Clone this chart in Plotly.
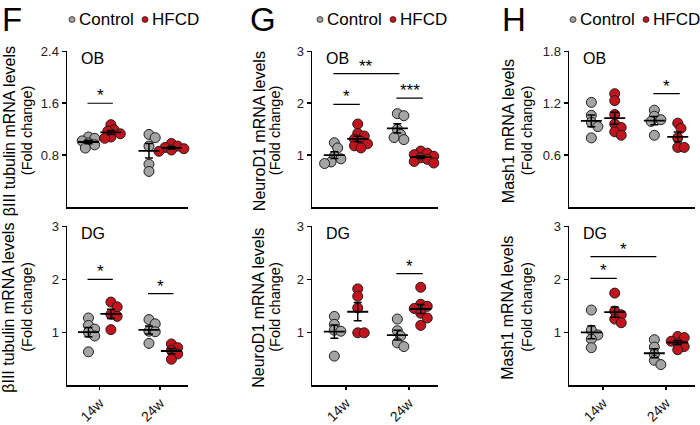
import numpy as np
import plotly.graph_objects as go

# ---------------- data ----------------
groups = ["Control 14w", "HFCD 14w", "Control 24w", "HFCD 24w"]
time_labels = ["14w", "24w"]
legend_labels = ["Control", "HFCD"]
panel_letters = ["F", "G", "H"]
gene_titles = ["βIII tubulin mRNA levels", "NeuroD1 mRNA levels", "Mash1 mRNA levels"]
sub_title = "(Fold change)"
regions = ["OB", "DG"]

# βIII tubulin
tub_ob_ctrl14 = [1.08, 1.06, 1.02, 0.99, 0.96, 0.91]
tub_ob_hfcd14 = [1.27, 1.19, 1.17, 1.13, 1.08, 1.06]
tub_ob_ctrl24 = [1.12, 1.07, 0.94, 0.66, 0.55]
tub_ob_hfcd24 = [0.98, 0.94, 0.92, 0.90, 0.88, 0.86]
tub_dg_ctrl14 = [1.27, 1.13, 1.06, 1.00, 0.93, 0.63]
tub_dg_hfcd14 = [1.57, 1.48, 1.34, 1.30, 1.05]
tub_dg_ctrl24 = [1.24, 1.16, 1.02, 1.01, 0.79]
tub_dg_hfcd24 = [0.78, 0.71, 0.66, 0.59, 0.49]
# NeuroD1
neu_ob_ctrl14 = [1.24, 1.14, 0.98, 0.93, 0.87, 0.84]
neu_ob_hfcd14 = [1.60, 1.42, 1.37, 1.31, 1.27, 1.22, 1.18, 1.14]
neu_ob_ctrl24 = [1.80, 1.76, 1.50, 1.40, 1.34, 1.30]
neu_ob_hfcd24 = [1.08, 1.04, 1.01, 0.98, 0.95, 0.92, 0.88, 0.85]
neu_dg_ctrl14 = [1.30, 1.15, 1.04, 1.02, 0.55]
neu_dg_hfcd14 = [1.82, 1.68, 1.46, 0.99, 0.99]
neu_dg_ctrl24 = [1.25, 1.03, 0.93, 0.80, 0.73]
neu_dg_hfcd24 = [1.85, 1.53, 1.49, 1.45, 1.36, 1.27, 1.13]
# Mash1
mash_ob_ctrl14 = [1.21, 1.06, 0.98, 0.93, 0.80]
mash_ob_hfcd14 = [1.31, 1.23, 1.07, 0.96, 0.92, 0.87, 0.83]
mash_ob_ctrl24 = [1.12, 1.05, 1.01, 0.99, 0.83]
mash_ob_hfcd24 = [0.97, 0.91, 0.80, 0.69, 0.69]
mash_dg_ctrl14 = [1.42, 1.04, 0.95, 0.87, 0.71]
mash_dg_hfcd14 = [1.74, 1.40, 1.33, 1.25, 1.18]
mash_dg_ctrl24 = [0.86, 0.72, 0.58, 0.47, 0.39]
mash_dg_hfcd24 = [0.92, 0.90, 0.83, 0.79, 0.73, 0.67]

# y-axis tick values per panel (top row, bottom row)
ob_yticks = [[0.8, 1.6, 2.4], [1, 2, 3], [0.6, 1.2, 1.8]]
dg_yticks = [[1, 2, 3], [1, 2, 3], [1, 2, 3]]

# significance: (panel index 0-5, group a, group b, level, label)
significance = [
    (0, 0, 1, 1.60, "*"),
    (3, 0, 1, 2.00, "*"),
    (3, 2, 3, 1.73, "*"),
    (1, 0, 1, 1.98, "*"),
    (1, 2, 3, 2.10, "***"),
    (1, 0, 2, 2.57, "**"),
    (4, 2, 3, 2.11, "*"),
    (2, 2, 3, 1.31, "*"),
    (5, 0, 1, 2.02, "*"),
    (5, 0, 2, 2.43, "*"),
]

panels_data = [
    [tub_ob_ctrl14, tub_ob_hfcd14, tub_ob_ctrl24, tub_ob_hfcd24],
    [neu_ob_ctrl14, neu_ob_hfcd14, neu_ob_ctrl24, neu_ob_hfcd24],
    [mash_ob_ctrl14, mash_ob_hfcd14, mash_ob_ctrl24, mash_ob_hfcd24],
    [tub_dg_ctrl14, tub_dg_hfcd14, tub_dg_ctrl24, tub_dg_hfcd24],
    [neu_dg_ctrl14, neu_dg_hfcd14, neu_dg_ctrl24, neu_dg_hfcd24],
    [mash_dg_ctrl14, mash_dg_hfcd14, mash_dg_ctrl24, mash_dg_hfcd24],
]
panel_yticks = ob_yticks + dg_yticks

# ---------------- layout constants ----------------
W, H = 700, 425
FONT = "Liberation Sans, Arial, Helvetica, sans-serif"
GRAY = "#a4a4a4"
RED = "#c3131c"
EDGE = "#1e1e1e"
group_colors = [GRAY, RED, GRAY, RED]
group_pos = [1.1, 2.25, 4.2, 5.35]
tick_pos = [(group_pos[0] + group_pos[1]) / 2, (group_pos[2] + group_pos[3]) / 2]
XMAX = 6.2

col_px = [(67, 188), (312, 438), (569, 695)]
row_px = [(46, 208), (228, 393)]
title_x = [(9, 27), (259, 275), (508, 527)]
letter_x = [12, 263, 514]
legend_x = [72, 320, 573]


def px(x):
    return x / W


def py(y):
    return 1 - y / H


def swarm(values, cx, ppx, ppy, diam=6.0, step=0.16):
    placed = []
    xs = [0.0] * len(values)
    for i in range(len(values)):
        v = values[i]
        k = 0
        while True:
            n = (k + 1) // 2
            off = n * step * (1 if k % 2 == 1 else -1) if k > 0 else 0.0
            cand = cx + off
            ok = all(((cand - qx) * ppx) ** 2 + ((v - qy) * ppy) ** 2 >= diam ** 2 for qx, qy in placed)
            if ok or k > 12:
                break
            k += 1
        placed.append((cand, v))
        xs[i] = cand
    return xs


fig = go.Figure()
layout_axes = {}
shapes = []
annotations = []

for p in range(6):
    col, row = p % 3, p // 3
    x0, x1 = col_px[col]
    y0, y1 = row_px[row]
    ticks = panel_yticks[p]
    ymax = ticks[-1]
    ppx = (x1 - x0) / XMAX
    ppy = (y1 - y0) / ymax
    xa = "x" if p == 0 else f"x{p + 1}"
    ya = "y" if p == 0 else f"y{p + 1}"
    xname = "xaxis" if p == 0 else f"xaxis{p + 1}"
    yname = "yaxis" if p == 0 else f"yaxis{p + 1}"

    for g in range(4):
        vals = panels_data[p][g]
        xs = swarm(vals, group_pos[g], ppx, ppy)
        fig.add_trace(go.Scatter(
            x=xs, y=vals, mode="markers", xaxis=xa, yaxis=ya, showlegend=False,
            cliponaxis=False, hoverinfo="skip",
            marker=dict(size=10, color=group_colors[g], line=dict(color=EDGE, width=1)),
        ))
    for g in range(4):
        vals = np.array(panels_data[p][g])
        mean = vals.mean()
        sem = vals.std(ddof=1) / np.sqrt(len(vals))
        fig.add_trace(go.Scatter(
            x=[group_pos[g]], y=[mean], mode="markers", xaxis=xa, yaxis=ya, showlegend=False,
            hoverinfo="skip",
            marker=dict(symbol="line-ew", size=15, line=dict(color="black", width=1.8)),
            error_y=dict(type="data", array=[sem], width=4, thickness=1.5, color="black"),
        ))

    layout_axes[xname] = dict(
        domain=[px(x0), px(x1)], range=[0, XMAX], anchor=ya,
        showline=True, linecolor="black", linewidth=1.5, mirror=False,
        showgrid=False, zeroline=False, ticks="outside", ticklen=3, tickwidth=1.5,
        tickcolor="black",
        tickvals=tick_pos if row == 1 else [],
        ticktext=time_labels if row == 1 else [],
        showticklabels=(row == 1), tickangle=-45,
        tickfont=dict(family=FONT, size=14, color="#111"),
    )
    layout_axes[yname] = dict(
        domain=[py(y1), py(y0)], range=[0, ymax], anchor=xa,
        showline=True, linecolor="black", linewidth=1.5,
        showgrid=False, zeroline=False, ticks="outside", ticklen=4, tickwidth=1.5,
        tickcolor="black", tickvals=ticks,
        tickfont=dict(family=FONT, size=13, color="#222"),
    )

    # region label
    annotations.append(dict(
        xref="paper", yref="paper", x=px(x0 + 12), y=py(y0 + 7), xanchor="left", yanchor="middle",
        text=regions[row], showarrow=False, font=dict(family=FONT, size=16, color="black"),
    ))
    # y titles
    cy = (y0 + y1) / 2 + 2
    tx1, tx2 = title_x[col]
    annotations.append(dict(
        xref="paper", yref="paper", x=px(tx1), y=py(cy), xanchor="center", yanchor="middle",
        text=gene_titles[col], textangle=-90, showarrow=False,
        font=dict(family=FONT, size=16, color="black"),
    ))
    annotations.append(dict(
        xref="paper", yref="paper", x=px(tx2), y=py(cy), xanchor="center", yanchor="middle",
        text=sub_title, textangle=-90, showarrow=False,
        font=dict(family=FONT, size=14.5, color="black"),
    ))

# significance bars
for p, a, b, lvl, lab in significance:
    xa = "x" if p == 0 else f"x{p + 1}"
    ya = "y" if p == 0 else f"y{p + 1}"
    xa0 = group_pos[a] - 0.05
    xb0 = group_pos[b] + 0.1
    shapes.append(dict(type="line", xref=xa, yref=ya, x0=xa0, x1=xb0, y0=lvl, y1=lvl,
                       line=dict(color="black", width=1.2)))
    annotations.append(dict(
        xref=xa, yref=ya, x=(xa0 + xb0) / 2, y=lvl, xanchor="center", yanchor="bottom",
        text=lab, showarrow=False, yshift=-4, font=dict(family=FONT, size=17, color="black"),
    ))

# panel letters and legends
for c in range(3):
    annotations.append(dict(
        xref="paper", yref="paper", x=px(letter_x[c]), y=py(13), xanchor="center", yanchor="middle",
        text=panel_letters[c], showarrow=False, font=dict(family=FONT, size=33, color="black"),
    ))
    lx = legend_x[c]
    for k, (lab, colr) in enumerate(zip(legend_labels, [GRAY, RED])):
        dx = lx + k * 73
        shapes.append(dict(type="circle", xref="paper", yref="paper",
                           x0=px(dx - 3), x1=px(dx + 3), y0=py(13 + 3), y1=py(13 - 3),
                           fillcolor=colr, line=dict(color=EDGE, width=0.8)))
        annotations.append(dict(
            xref="paper", yref="paper", x=px(dx + 5), y=py(13), xanchor="left", yanchor="middle",
            text=lab, showarrow=False, font=dict(family=FONT, size=17, color="black"),
        ))

fig.update_layout(
    width=W, height=H, margin=dict(l=0, r=0, t=0, b=0),
    plot_bgcolor="white", paper_bgcolor="white",
    showlegend=False, shapes=shapes, annotations=annotations, hovermode=False,
    **layout_axes,
)

fig.write_html(
    "out.html",
    config={"displayModeBar": False, "staticPlot": True},
    post_script="document.body.style.margin='0';document.body.style.overflow='hidden';",
)
